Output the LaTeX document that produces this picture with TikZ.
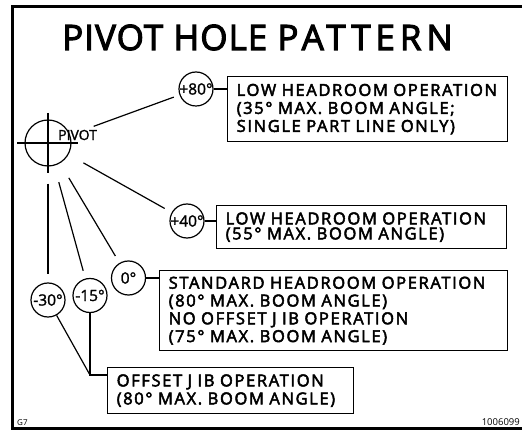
\documentclass[tikz,border=0pt]{standalone}
\usepackage{fontspec}
\setmainfont{Open Sans}
\newfontfamily\boxfont{Open Sans}[FakeBold=3, LetterSpace=10, WordSpace=1.6]
\newfontfamily\titlefont{Open Sans}[FakeBold=3, LetterSpace=3]
\newfontfamily\titlewide{Open Sans}[FakeBold=3, LetterSpace=14]
\newfontfamily\holefont{Open Sans}[FakeBold=1.5]
\begin{document}
\begin{tikzpicture}[x=1pt,y=-1pt,
  frame/.style={line width=3pt},
  hole/.style={circle, draw, line width=1.2pt, minimum size=34pt, inner sep=0pt,
    font=\holefont\fontsize{15.5}{15.5}\selectfont},
  infobox/.style={draw, line width=1.4pt, anchor=north west, align=left,
    inner xsep=9pt, inner ysep=0pt, font=\boxfont\fontsize{16.5}{18}\selectfont},
  conn/.style={line width=1.2pt},
  radial/.style={conn, shorten <=17pt, shorten >=8pt}]
\useasboundingbox (0,0) rectangle (522,430);
% frame
\draw[frame] (522,7) -- (12.5,7) -- (12.5,428.5) -- (522,428.5);
% title
\node[font=\titlefont\fontsize{35}{35}\selectfont, inner sep=0pt, anchor=base west] (title) at (62,50)
  {PIVOT HOLE {\titlewide PATTERN}};
% pivot
\node[circle, draw, line width=1.2pt, minimum size=46pt, inner sep=0pt] (pivot) at (48,143) {};
\draw[conn] ([xshift=-31pt]pivot.center) -- ([xshift=30pt]pivot.center);
\draw[conn] ([yshift=30pt]pivot.center) -- ([yshift=-30pt]pivot.center);
\node[anchor=west, inner sep=0pt, font=\holefont\fontsize{14}{14}\selectfont] (pivlabel) at (58,135) {PIVOT};
% holes
\node[hole] (p80) at (196,89) {\makebox[0pt]{+80°}};
\node[hole] (p40) at (187,221) {\makebox[0pt]{+40°}};
\node[hole] (p0) at (128.5,278) {\makebox[0pt]{0°}};
\node[hole] (m15) at (90,295.5) {\makebox[0pt]{-15°}};
\node[hole] (m30) at (48,300) {\makebox[0pt]{-30°}};
% boxes
\node[infobox, minimum width=280pt, minimum height=65pt, text width=262pt] (b80) at (227,76)
  {\mbox{LOW HEADROOM OPERATION}\\\mbox{(35° MAX. BOOM ANGLE;}\\\mbox{SINGLE PART LINE ONLY)}};
\node[infobox, minimum width=290pt, minimum height=43pt, text width=272pt,
  font=\boxfont\fontsize{16.5}{15}\selectfont] (b40) at (216,205)
  {\mbox{LOW HEADROOM OPERATION}\\\mbox{(55° MAX. BOOM ANGLE)}};
\node[infobox, minimum width=348pt, minimum height=80pt, text width=330pt,
  font=\boxfont\fontsize{16.5}{17.8}\selectfont] (b0) at (159,270)
  {\mbox{STANDARD HEADROOM OPERATION}\\\mbox{(80° MAX. BOOM ANGLE)}\\\mbox{NO OFFSET J IB OPERATION}\\\mbox{(75° MAX. BOOM ANGLE)}};
\node[infobox, minimum width=246pt, minimum height=46pt, text width=228pt] (boff) at (107,367)
  {\mbox{OFFSET J IB OPERATION}\\\mbox{(80° MAX. BOOM ANGLE)}};
% radial connectors
\draw[radial, shorten <=25pt, shorten >=6pt] (pivot) -- (p80);
\draw[radial] (pivot) -- (p40);
\draw[radial] (pivot) -- (p0);
\draw[radial] (pivot) -- (m15);
\draw[radial] (pivot) -- (m30);
% hole to box connectors
\draw[conn] (p80.east) -- (p80.east -| b80.west);
\draw[conn] (p40.east) -- (p40.east -| b40.west);
\draw[conn] (p0.east) -- (p0.east -| b0.west);
% offset jib
\coordinate (junc) at (90,375);
\draw[conn] (m15.south) -- (junc) -- (junc -| boff.west);
\draw[conn] (m30) -- (junc);
% small texts
\node[anchor=base west, inner sep=0pt, font=\fontsize{8}{8}\selectfont] (g7) at (17,425) {G7};
\node[anchor=base east, inner sep=0pt, font=\fontsize{9.5}{9.5}\selectfont] (code) at (520,425) {1006099};
\end{tikzpicture}
\end{document}
